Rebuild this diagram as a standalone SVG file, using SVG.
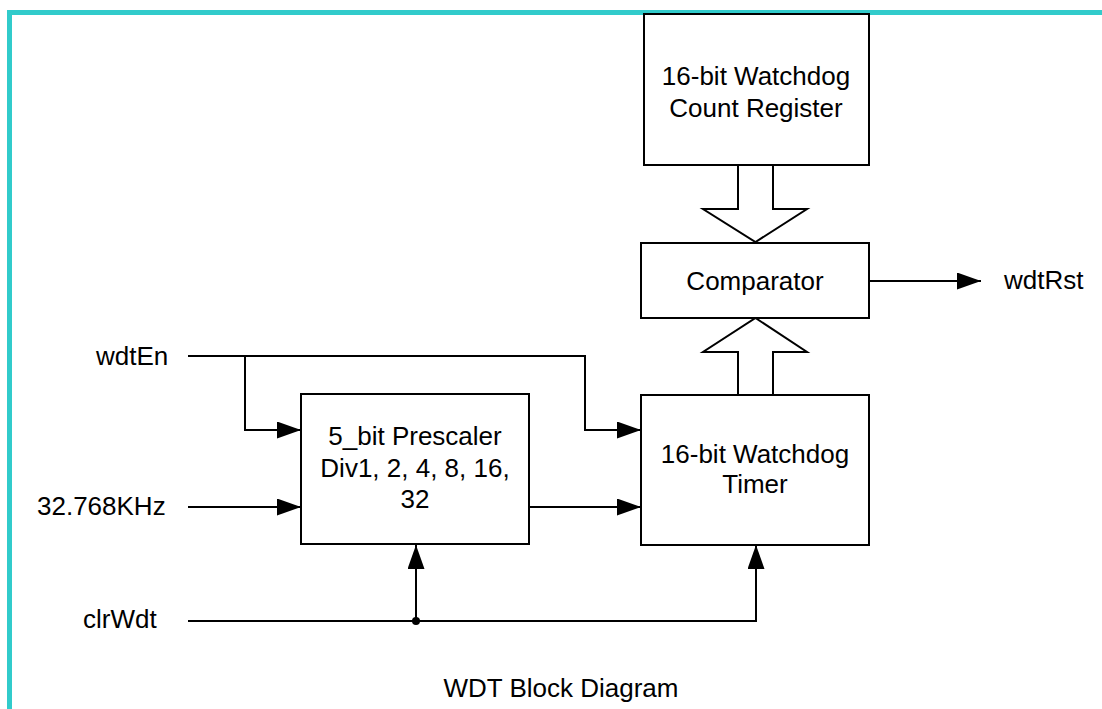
<svg xmlns="http://www.w3.org/2000/svg" width="1102" height="709" viewBox="0 0 1102 709">
  <style>
    .box { fill: #ffffff; stroke: #000000; stroke-width: 2; }
    .bus { fill: #ffffff; stroke: #000000; stroke-width: 2; stroke-linejoin: miter; }
    .wire { fill: none; stroke: #000000; stroke-width: 2; }
    .head { fill: #000000; stroke: none; }
    text { font-family: "Liberation Sans", Arial, sans-serif; font-size: 26px; fill: #000000; }
    .c { text-anchor: middle; }
  </style>
  <defs>
    <marker id="arrow" viewBox="0 0 24 17" refX="24" refY="8.5" markerWidth="24" markerHeight="17" markerUnits="userSpaceOnUse" orient="auto">
      <path class="head" d="M0,0 L24,8.5 L0,17 Z"/>
    </marker>
  </defs>

  <rect width="1102" height="709" fill="#ffffff"/>

  <!-- frame -->
  <rect x="7" y="10" width="1095" height="5" fill="#31CBCB"/>
  <rect x="7" y="10" width="5" height="699" fill="#31CBCB"/>

  <!-- connectors -->
  <g id="connectors">
    <!-- register to comparator bus -->
    <polygon class="bus" points="738,165 773,165 773,209 807,209 755.5,242 703,209 738,209"/>
    <!-- timer to comparator bus -->
    <polygon class="bus" points="738,395 773,395 773,352 807,352 755.5,318 703,352 738,352"/>
    <!-- wdtRst output -->
    <path class="wire" d="M869,281 H981" marker-end="url(#arrow)"/>
    <!-- wdtEn -->
    <path class="wire" d="M188,356 H585 V430 H641" marker-end="url(#arrow)"/>
    <path class="wire" d="M245,356 V430 H301" marker-end="url(#arrow)"/>
    <!-- clock input -->
    <path class="wire" d="M188,507 H301" marker-end="url(#arrow)"/>
    <!-- prescaler output -->
    <path class="wire" d="M529,507 H641" marker-end="url(#arrow)"/>
    <!-- clrWdt -->
    <path class="wire" d="M188,621 H756 V545" marker-end="url(#arrow)"/>
    <path class="wire" d="M416,621 V545" marker-end="url(#arrow)"/>
    <circle cx="416" cy="621" r="4" fill="#000000"/>
  </g>

  <!-- signal labels -->
  <g id="labels">
    <text x="96" y="365">wdtEn</text>
    <text x="37" y="515">32.768KHz</text>
    <text x="83" y="628">clrWdt</text>
    <text x="1004" y="289">wdtRst</text>
  </g>

  <g id="count-register">
    <rect class="box" x="644" y="14" width="225" height="151"/>
    <text class="c" x="756" y="85">16-bit Watchdog</text>
    <text class="c" x="756" y="117">Count Register</text>
  </g>

  <g id="comparator">
    <rect class="box" x="641" y="243" width="228" height="75"/>
    <text class="c" x="755" y="290">Comparator</text>
  </g>

  <g id="prescaler">
    <rect class="box" x="301" y="394" width="228" height="150"/>
    <text class="c" x="415" y="445">5_bit Prescaler</text>
    <text class="c" x="415" y="477">Div1, 2, 4, 8, 16,</text>
    <text class="c" x="415" y="508">32</text>
  </g>

  <g id="watchdog-timer">
    <rect class="box" x="641" y="395" width="228" height="150"/>
    <text class="c" x="755" y="463">16-bit Watchdog</text>
    <text class="c" x="755" y="493">Timer</text>
  </g>

  <text class="c" x="561" y="697">WDT Block Diagram</text>
</svg>
